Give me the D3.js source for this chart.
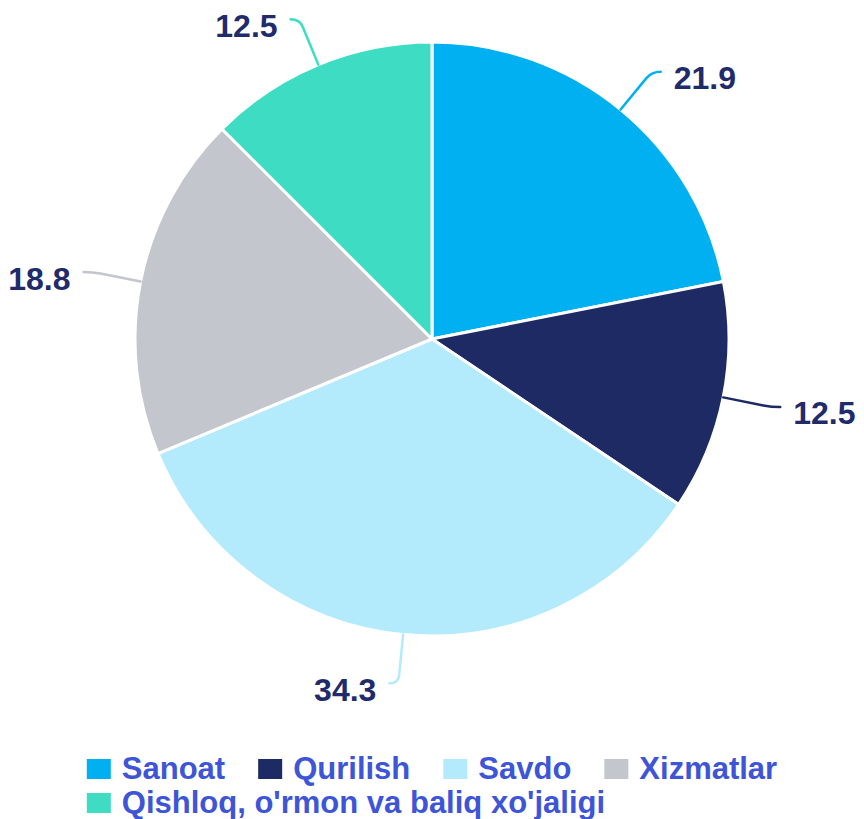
<!DOCTYPE html>
<html>
<head>
<meta charset="utf-8">
<script src="https://cdn.jsdelivr.net/npm/d3@7"></script>
<style>
  html, body { margin: 0; padding: 0; background: #ffffff; }
  svg { display: block; }
  text { font-family: "Liberation Sans", Arial, sans-serif; font-weight: bold; }
</style>
</head>
<body>
<svg id="chart" width="864" height="819"></svg>
<script>
const categories = ["Sanoat", "Qurilish", "Savdo", "Xizmatlar", "Qishloq, o'rmon va baliq xo'jaligi"];
const values = [21.9, 12.5, 34.3, 18.8, 12.5];
const labels = ["21.9", "12.5", "34.3", "18.8", "12.5"];
const colors = ["#00b0f0", "#1e2a64", "#b3eafc", "#c4c6ce", "#3ddcc3"];

const W = 864, H = 819;
const cx = 432, cy = 339, R = 297;
const labelDist = 49, crook = 9;

const svg = d3.select("#chart");
const g = svg.append("g").attr("transform", `translate(${cx},${cy})`);

const data = categories.map((c, i) => ({ name: c, value: values[i], label: labels[i], color: colors[i] }));
const pie = d3.pie().value(d => d.value).sort(null);
const arcs = pie(data);
const arc = d3.arc().innerRadius(0).outerRadius(R);

g.selectAll("path.slice")
  .data(arcs)
  .join("path")
  .attr("class", "slice")
  .attr("d", arc)
  .attr("fill", d => d.data.color)
  .attr("stroke", "#ffffff")
  .attr("stroke-width", 3)
  .attr("stroke-linejoin", "round");

const pt = (a, r) => [r * Math.sin(a), -r * Math.cos(a)];

arcs.forEach(d => {
  const a = (d.startAngle + d.endAngle) / 2;
  const side = Math.sin(a) >= 0 ? 1 : -1;
  const S = pt(a, R);
  const B = pt(a, R + labelDist);
  const E = [B[0] + side * crook, B[1]];
  // point slightly before B along the radial line for rounded corner
  const P = pt(a, R + labelDist - 8);
  g.append("path")
    .attr("d", `M${S[0]},${S[1]} L${P[0]},${P[1]} Q${B[0]},${B[1]} ${E[0]},${E[1]}`)
    .attr("fill", "none")
    .attr("stroke", d.data.color)
    .attr("stroke-width", 2.5)
    .attr("stroke-linecap", "round");
  g.append("text")
    .attr("x", E[0] + side * 13)
    .attr("y", E[1] + 9)
    .attr("dominant-baseline", "middle")
    .attr("text-anchor", side > 0 ? "start" : "end")
    .attr("font-size", 32)
    .attr("fill", "#1f2b6b")
    .text(d.data.label);
});

// Legend
const legend = svg.append("g");
const symSize = 24, textOff = 35, itemGap = 33, fontSize = 31;
const items = data.map((d, i) => {
  const gi = legend.append("g");
  gi.append("rect").attr("width", symSize).attr("height", symSize - 4).attr("y", -symSize + 4)
    .attr("fill", d.color);
  const t = gi.append("text").attr("x", textOff).attr("y", 0)
    .attr("font-size", fontSize).attr("fill", "#3d55d6").text(d.name);
  const w = textOff + t.node().getComputedTextLength();
  return { g: gi, w };
});
const maxRow = 720;
const rows = [[]];
let rw = 0;
items.forEach(it => {
  const add = (rows[rows.length - 1].length ? itemGap : 0) + it.w;
  if (rw + add > maxRow && rows[rows.length - 1].length) { rows.push([it]); rw = it.w; }
  else { rows[rows.length - 1].push(it); rw += add; }
});
const rowWidths = rows.map(r => r.reduce((s, it, i) => s + it.w + (i ? itemGap : 0), 0));
const boxW = d3.max(rowWidths);
const x0 = (W - boxW) / 2;
const rowY = [779, 813];
rows.forEach((r, ri) => {
  let x = x0;
  r.forEach(it => {
    it.g.attr("transform", `translate(${x},${rowY[ri]})`);
    x += it.w + itemGap;
  });
});
</script>
</body>
</html>
